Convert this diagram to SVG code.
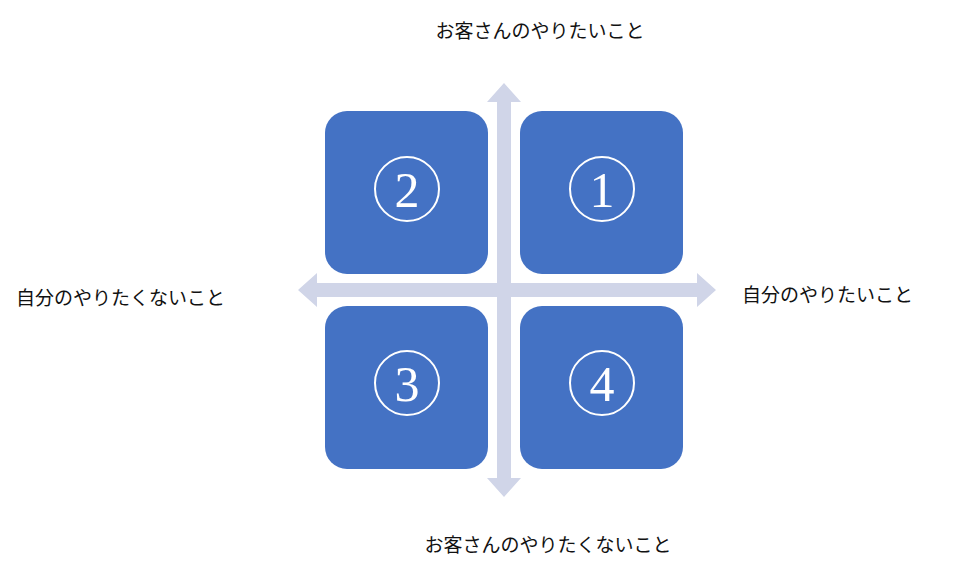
<svg xmlns="http://www.w3.org/2000/svg" width="971" height="580" viewBox="0 0 971 580">
<style>
.box{fill:#4472C4}
.c{fill:none;stroke:#fff;stroke-width:2}
.n{fill:#fff;font-family:"Liberation Serif",serif;font-size:50px;text-anchor:middle}
.l{fill:#111;font-family:"Noto Sans CJK JP",sans-serif;font-size:19px}
.ax{fill:#D0D5E8}
</style>
<rect width="971" height="580" fill="#fff"/>
<g id="connectors">
<polygon class="ax" points="504,83 521,102 511,102 511,283 697,283 697,273 716,290 697,307 697,297 511,297 511,478 521,478 504,497 487,478 497,478 497,297 317,297 317,307 298,290 317,273 317,283 497,283 497,102 487,102"/>
</g>
<g id="n2"><rect class="box" x="325" y="111" width="163" height="163" rx="22"/><circle class="c" cx="407" cy="189" r="32"/><text class="n" x="407" y="207">2</text></g>
<g id="n1"><rect class="box" x="520" y="111" width="163" height="163" rx="22"/><circle class="c" cx="602" cy="189" r="32"/><text class="n" x="602" y="207">1</text></g>
<g id="n3"><rect class="box" x="325" y="306" width="163" height="163" rx="22"/><circle class="c" cx="407" cy="383" r="32"/><text class="n" x="407" y="401">3</text></g>
<g id="n4"><rect class="box" x="520" y="306" width="163" height="163" rx="22"/><circle class="c" cx="602" cy="383" r="32"/><text class="n" x="602" y="401">4</text></g>
<g id="labels">
<text class="l" x="540" y="38" text-anchor="middle">お客さんのやりたいこと</text>
<text class="l" x="548" y="552" text-anchor="middle">お客さんのやりたくないこと</text>
<text class="l" x="16" y="305">自分のやりたくないこと</text>
<text class="l" x="742" y="302">自分のやりたいこと</text>
</g>
</svg>
